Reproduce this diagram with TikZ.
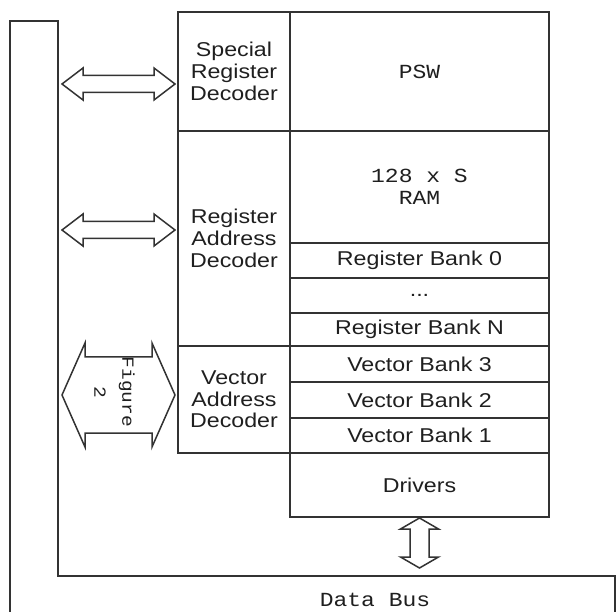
\documentclass[tikz,border=0pt]{standalone}
\usepackage{fontspec}
\newfontfamily\fsans[FakeStretch = 1.16]{Liberation Sans}
\newfontfamily\fmono[FakeStretch = 1.15]{Liberation Mono}
\usetikzlibrary{calc, positioning}

\definecolor{linea}{gray}{0.2}
\definecolor{texto}{gray}{0.12}

\tikzset{
	caja/.style = {
		draw = linea, line width = 1.6pt,
		inner sep = 0pt, outer sep = 0pt,
		align = center, text = texto,
		font = \fsans\fontsize{20}{21.7}\selectfont
	},
	dec/.style = {caja, minimum width = 112pt},
	mem/.style = {caja, minimum width = 259pt},
	mono/.style = {font = \fmono\fontsize{20}{22}\selectfont},
	bus/.style = {draw = linea, line width = 1.7pt, line join = miter},
}

% flecha hueca de doble punta: extremos, semiancho del cuerpo,
% semiancho de la punta, largo de la punta
\newcommand{\flecha}[5]{
	\coordinate (fa) at ($(#1)!#5!(#2)$);
	\coordinate (fb) at ($(#2)!#5!(#1)$);
	\draw[bus, line width = 1.5pt, fill = white]
		(#1) -- ($(fa)!#4!90:(#1)$) -- ($(fa)!#3!90:(#1)$)
		-- ($(fb)!#3!-90:(#2)$) -- ($(fb)!#4!-90:(#2)$)
		-- (#2) -- ($(fb)!#4!90:(#2)$) -- ($(fb)!#3!90:(#2)$)
		-- ($(fa)!#3!-90:(#1)$) -- ($(fa)!#4!-90:(#1)$) -- cycle;
}

\begin{document}
\begin{tikzpicture}[x = 1pt, y = -1pt]

	% márgenes del dibujo
	\useasboundingbox (0,0) rectangle (616,612);

	% esquinas del bus
	\coordinate (E1) at (10,21);
	\coordinate (E2) at (58,21);
	\coordinate (E3) at (58,576);
	\coordinate (E4) at (615,576);

	% bus de datos
	\draw[bus] (615,616) -- (E4) -- (E3) -- (E2) -- (E1) -- (10,616);
	\node[mono, text = texto] (DB) at (375,600) {Data Bus};

	% decodificadores
	\node[dec, anchor = north west, minimum height = 119pt] (SRD)
		at (178,12) {Special\\Register\\Decoder};
	\node[dec, below = 0pt of SRD, minimum height = 215pt] (RAD)
		{Register\\Address\\Decoder};
	\node[dec, below = 0pt of RAD, minimum height = 107pt] (VAD)
		{Vector\\Address\\Decoder};

	% memoria
	\node[mem, mono, anchor = north west, minimum height = 119pt] (PSW)
		at (290,12) {PSW};
	\node[mem, mono, below = 0pt of PSW, minimum height = 112pt] (RAM)
		{128 x S\\RAM};

	% bancos
	\foreach \n/\a/\h/\t in {
		RB0/RAM/35/{Register Bank 0},
		RBD/RB0/35/{...},
		RBN/RBD/33/{Register Bank N},
		VB3/RBN/36/{Vector Bank 3},
		VB2/VB3/36/{Vector Bank 2},
		VB1/VB2/35/{Vector Bank 1},
		DRV/VB1/64/{Drivers}}
		\node[mem, below = 0pt of \a, minimum height = \h pt] (\n) {\t};

	% extremos de las flechas
	\coordinate (S1) at ([shift = {(-3pt,-12.5pt)}]SRD.west);
	\coordinate (S2) at ([shift = {(-3pt,8.5pt)}]RAD.west);
	\coordinate (S3) at ([shift = {(-3pt,4.5pt)}]VAD.west);
	\coordinate (B1) at ($(E2 |- S1)+(4,0)$);
	\coordinate (B2) at ($(E2 |- S2)+(4,0)$);
	\coordinate (B3) at ($(E2 |- S3)+(4,0)$);
	\coordinate (D1) at ([yshift = -1pt]DRV.south);
	\coordinate (D2) at ($(DRV.south |- E3)+(0,-8)$);

	% flechas
	\flecha{B1}{S1}{8.5pt}{16pt}{21pt}
	\flecha{B2}{S2}{8.5pt}{16pt}{21pt}
	\flecha{B3}{S3}{38pt}{52pt}{23pt}
	\flecha{D1}{D2}{9.5pt}{19pt}{11pt}

	\node[rotate = -90, align = center, text = texto,
		font = \fmono\fontsize{17}{28}\selectfont] (FIG)
		at ($(B3)!0.5!(S3)+(-4,-3)$) {Figure\\2};

\end{tikzpicture}
\end{document}
